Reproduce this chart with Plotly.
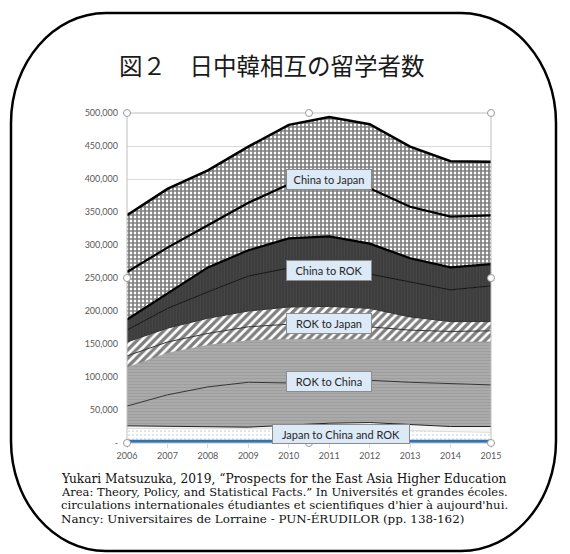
import plotly.graph_objects as go

# ---------------- data ----------------
years = [2006, 2007, 2008, 2009, 2010, 2011, 2012, 2013, 2014, 2015]

japan_to_rok = [2500, 2500, 2500, 2500, 2500, 2500, 2500, 2500, 2500, 2500]
japan_to_china = [19500, 19500, 18500, 18500, 18500, 18500, 17500, 16500, 14500, 13500]
japan_other = [4000, 3000, 3000, 3000, 6000, 9000, 11000, 9000, 8000, 9000]
rok_to_china_a = [30000, 48000, 61000, 68000, 64000, 63000, 64000, 64000, 65000, 63000]
rok_to_china_b = [58000, 63000, 63000, 63000, 66000, 64000, 62000, 61000, 63000, 65000]
rok_to_japan_a = [18000, 17000, 18000, 21000, 23000, 23000, 19000, 18000, 16000, 17000]
rok_to_japan_b = [21000, 21000, 23000, 24000, 26000, 27000, 28000, 20000, 15000, 14000]
china_to_rok_a = [18000, 30000, 40000, 53000, 59000, 54000, 52000, 53000, 48000, 54000]
china_to_rok_b = [16000, 22000, 37000, 39000, 45000, 52000, 46000, 36000, 34000, 33000]
china_to_japan_a = [72000, 70000, 64000, 72000, 82000, 83000, 84000, 78000, 77000, 74000]
china_to_japan_b = [86000, 89000, 83000, 85000, 90000, 98000, 97000, 91000, 84000, 81000]

y_tickvals = [0, 50000, 100000, 150000, 200000, 250000, 300000, 350000, 400000, 450000, 500000]
y_ticktext = ["-", "50,000", "100,000", "150,000", "200,000", "250,000",
              "300,000", "350,000", "400,000", "450,000", "500,000"]

label_texts = ["China to Japan", "China to ROK", "ROK to Japan", "ROK to China",
               "Japan to China and ROK"]
label_years = [2011.0, 2011.0, 2011.0, 2011.0, 2011.3]
label_values = [399000, 261000, 181000, 93000, 14000]

title_text = "図２　日中韓相互の留学者数"
citation_lines = [
    "Yukari Matsuzuka, 2019, “Prospects for the East Asia Higher Education",
    "Area: Theory, Policy, and Statistical Facts.” In Universités et grandes écoles.",
    "circulations internationales étudiantes et scientifiques d'hier à aujourd'hui.",
    "Nancy: Universitaires de Lorraine - PUN-ÉRUDILOR (pp. 138-162)",
]
citation_sizes = [12.2, 11.5, 11.7, 11.9]

# ---------------- geometry helpers ----------------
W, H = 570, 554
ML, MR, MT, MB = 127, 79, 113, 111
PW, PH = W - ML - MR, H - MT - MB


def px(xp):
    return (xp - ML) / PW


def py(yp):
    return (H - MB - yp) / PH


fig = go.Figure()

checker = dict(shape="+", bgcolor="#ffffff", fgcolor="#000000", size=4, solidity=0.68)
hatch = dict(shape="/", bgcolor="#ffffff", fgcolor="#000000", size=6, solidity=0.55)
darkfill = dict(shape="|", bgcolor="#3d3d3d", fgcolor="#4c4c4c", size=3, solidity=0.4)
grayfill = dict(shape="-", bgcolor="#aaaaaa", fgcolor="#909090", size=3, solidity=0.3)
dotfill = dict(shape=".", bgcolor="#ffffff", fgcolor="#9a9a9a", size=4, solidity=0.15)

series = [
    (japan_to_rok, dict(color="#2e75b6", width=3), dict(fillcolor="#2e75b6")),
    (japan_to_china, dict(color="#c8c8c8", width=0.6), dict(fillpattern=dotfill)),
    (japan_other, dict(color="#222222", width=1), dict(fillcolor="#f4f4f4")),
    (rok_to_china_a, dict(color="#333333", width=1), dict(fillpattern=grayfill)),
    (rok_to_china_b, dict(color="#9a9a9a", width=0.8), dict(fillpattern=grayfill)),
    (rok_to_japan_a, dict(color="#333333", width=1), dict(fillpattern=hatch)),
    (rok_to_japan_b, dict(color="#333333", width=1), dict(fillpattern=hatch)),
    (china_to_rok_a, dict(color="#111111", width=1), dict(fillpattern=darkfill)),
    (china_to_rok_b, dict(color="#000000", width=2.2), dict(fillpattern=darkfill)),
    (china_to_japan_a, dict(color="#000000", width=2.2), dict(fillpattern=checker)),
    (china_to_japan_b, dict(color="#000000", width=2.5), dict(fillpattern=checker)),
]

for vals, line, fill in series:
    fig.add_trace(go.Scatter(x=years, y=vals, mode="lines", stackgroup="one",
                             line=line, hoverinfo="skip", showlegend=False, **fill))

# labels
for t, xv, yv in zip(label_texts, label_years, label_values):
    wide = len(t) > 15
    fig.add_annotation(x=xv, y=yv, xref="x", yref="y", text=t, showarrow=False,
                       font=dict(family="Lato, Open Sans, sans-serif", size=11, color="#262626"),
                       bgcolor="#dce9f6", bordercolor="#8c8c8c", borderwidth=1,
                       borderpad=2, width=132 if wide else 80, height=14 if wide else 15)

# title
fig.add_annotation(x=px(272), y=py(65), xref="paper", yref="paper", text=title_text,
                   showarrow=False, xanchor="center", yanchor="middle",
                   font=dict(family="Noto Sans CJK JP", size=23.5, color="#1a1a1a"))

# citation
for i, (line, sz) in enumerate(zip(citation_lines, citation_sizes)):
    fig.add_annotation(x=px(59), y=py(479 + i * 13.2), xref="paper", yref="paper", text=line,
                       showarrow=False, xanchor="left", yanchor="middle",
                       font=dict(family="DejaVu Serif", size=sz, color="#111111"))

# rounded frame
L, R, T, B = 11, 556, 13, 551
rx, ry = 95, 110
k = 0.5523


def P(a, b):
    return f"{px(a):.5f},{py(b):.5f}"


path = (f"M {P(L + rx, T)} L {P(R - rx, T)} "
        f"C {P(R - rx + k * rx, T)} {P(R, T + ry - k * ry)} {P(R, T + ry)} "
        f"L {P(R, B - ry)} "
        f"C {P(R, B - ry + k * ry)} {P(R - rx + k * rx, B)} {P(R - rx, B)} "
        f"L {P(L + rx, B)} "
        f"C {P(L + rx - k * rx, B)} {P(L, B - ry + k * ry)} {P(L, B - ry)} "
        f"L {P(L, T + ry)} "
        f"C {P(L, T + ry - k * ry)} {P(L + rx - k * rx, T)} {P(L + rx, T)} Z")
fig.add_shape(type="path", path=path, xref="paper", yref="paper",
              line=dict(color="#000000", width=2.5), layer="above")

# plot-area selection frame and handles
fig.add_shape(type="rect", xref="paper", yref="paper", x0=0, x1=1, y0=0, y1=1,
              line=dict(color="#bfbfbf", width=1), layer="above")
for hx, hy in [(127, 113), (309, 113), (491, 113), (127, 278), (491, 278),
               (127, 443), (309, 443), (491, 443)]:
    fig.add_shape(type="circle", xref="paper", yref="paper",
                  x0=px(hx - 3.5), x1=px(hx + 3.5), y0=py(hy + 3.5), y1=py(hy - 3.5),
                  line=dict(color="#9a9a9a", width=1), fillcolor="#ffffff", layer="above")

fig.update_layout(
    width=W, height=H, autosize=False,
    margin=dict(l=ML, r=MR, t=MT, b=MB),
    paper_bgcolor="#ffffff", plot_bgcolor="#ffffff",
    showlegend=False,
    xaxis=dict(range=[2006, 2015], tickvals=years, ticktext=[str(y) for y in years],
               tickfont=dict(family="Lato, Open Sans, sans-serif", size=9, color="#595959"),
               ticks="outside", ticklen=4, tickcolor="#d9d9d9", showgrid=False,
               showline=False, zeroline=False, fixedrange=True),
    yaxis=dict(range=[0, 500000], tickvals=y_tickvals, ticktext=y_ticktext,
               tickfont=dict(family="Lato, Open Sans, sans-serif", size=9, color="#595959"),
               showgrid=True, gridcolor="#d9d9d9", gridwidth=1, zeroline=False,
               ticks="", ticklabelstandoff=8, fixedrange=True),
)

fig.write_html("out.html")
